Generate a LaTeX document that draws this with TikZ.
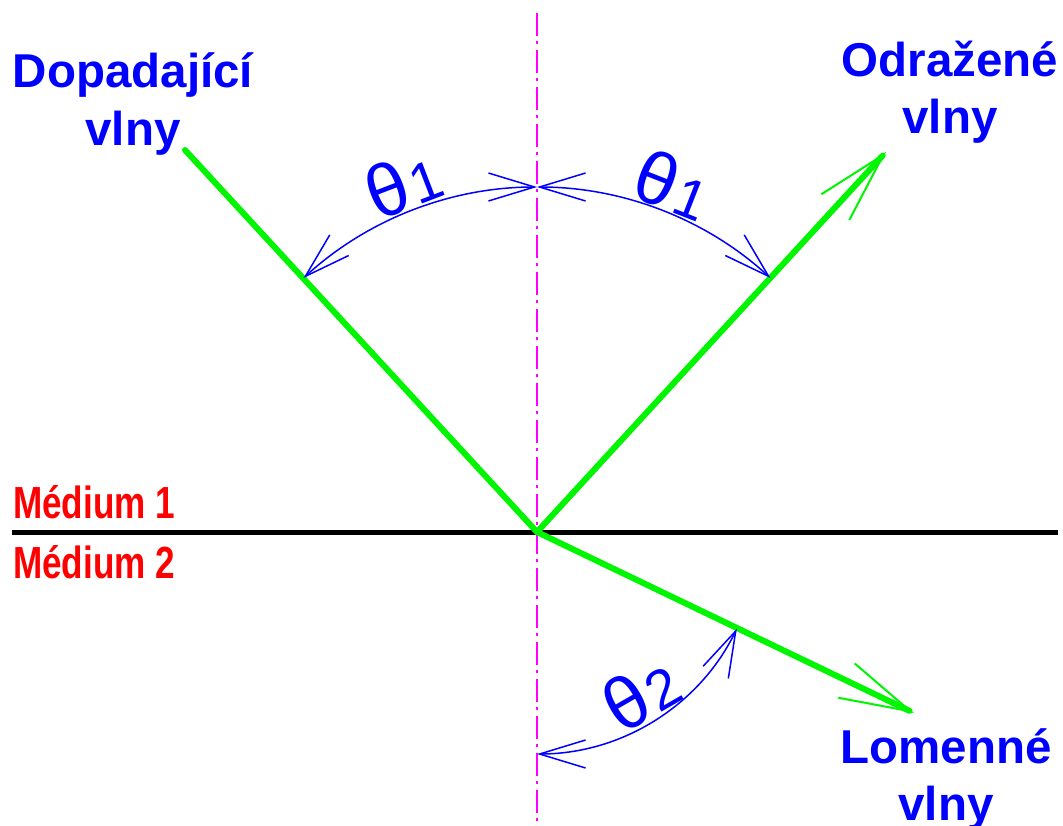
\documentclass[tikz,border=0pt]{standalone}
\usepackage{fontspec}
\setmainfont{Liberation Sans}
\usetikzlibrary{arrows.meta,calc}
\definecolor{rayg}{RGB}{0,245,0}
\definecolor{blu}{RGB}{0,0,255}
\definecolor{redd}{RGB}{255,0,0}
\definecolor{magg}{RGB}{255,0,255}
\tikzset{
  ray/.style={draw=rayg, line width=6pt, line cap=round},
  rayarrow/.style={ray, -{Straight Barb[length=71pt,width=38pt,line width=2pt]}},
  angarc/.style={draw=blu, line width=1.5pt,
    {Straight Barb[length=46pt,width=28pt]}-{Straight Barb[length=46pt,width=28pt]}},
  axisline/.style={draw=magg, line width=2pt, dash pattern=on 23pt off 5pt on 3pt off 6pt},
  surface/.style={draw=black, line width=5pt},
  wavelabel/.style={text=blu, font=\fontsize{47.5}{57}\selectfont\bfseries, inner sep=0pt, anchor=base},
  medlabel/.style={text=redd, font=\fontsize{45}{54}\selectfont\bfseries, inner sep=0pt, anchor=base west, xscale=0.78},
  anglabel/.style={text=blu, font=\fontsize{74}{74}\selectfont, inner sep=0pt},
}
\newcommand{\digsmall}[1]{\kern3pt{\fontsize{56}{56}\selectfont #1}}
\begin{document}
\begin{tikzpicture}[x=1pt,y=1pt]
\useasboundingbox (0,0) rectangle (1063,-825);
% key points
\coordinate (O) at (537,-532);
\coordinate (Vt) at (537,-13);
\coordinate (Vb) at (537,-825);
\coordinate (Hl) at (12,-532);
\coordinate (Hr) at (1058,-532);
\coordinate (Pin) at (185,-150);
\coordinate (Pre) at (886,-152);
\coordinate (Pfr) at (914,-713);
\coordinate (T1) at ($(O)+(90:345)$);
\coordinate (B2) at ($(O)+(-90:222)$);
% normal and surface
\draw[axisline] (Vt) -- (Vb);
\draw[surface] (Hl) -- (Hr);
% rays
\draw[ray] (Pin) -- (O);
\draw[rayarrow] (O) -- (Pre);
\draw[rayarrow] (O) -- (Pfr);
% angle arcs
\draw[angarc] (T1) arc[start angle=90, end angle=132.6, radius=345];
\draw[angarc] (T1) arc[start angle=90, end angle=47.4, radius=345];
\draw[angarc] (B2) arc[start angle=-90, end angle=-25.8, radius=222];
% angle labels
\node[anglabel, rotate=21] (thL) at ($(O)+(111:374)$) {θ\digsmall{1}};
\node[anglabel, rotate=-21.4] (thR) at ($(O)+(68.6:373)$) {θ\digsmall{1}};
\node[anglabel, rotate=30] (thB) at (641,-694) {θ\digsmall{2}};
% wave labels
\node[wavelabel] (dop1) at (133,-87) {Dopadající};
\node[wavelabel] (dop2) at (133,-145) {vlny};
\node[wavelabel] (odr1) at (950,-76) {Odražené};
\node[wavelabel] (odr2) at (950,-133) {vlny};
\node[wavelabel] (lom1) at (946,-763) {Lomenné};
\node[wavelabel] (lom2) at (946,-820) {vlny};
% media
\node[medlabel] (m1) at (13,-518) {Médium 1};
\node[medlabel] (m2) at (13,-578) {Médium 2};
\end{tikzpicture}
\end{document}
